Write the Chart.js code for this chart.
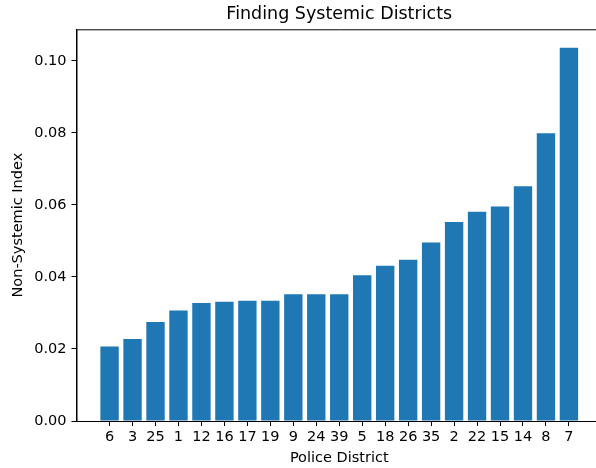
<!DOCTYPE html>
<html>
<head>
<meta charset="utf-8">
<script src="https://cdn.jsdelivr.net/npm/chart.js@4/dist/chart.umd.min.js"></script>
<style>
  html, body { margin: 0; padding: 0; background: #fff; overflow: hidden; }
  #wrap { width: 612px; height: 468px; }
</style>
</head>
<body>
<div id="wrap"><canvas id="grafico" width="612" height="468"></canvas></div>
<script>
// dados
const distritos = ['6', '3', '25', '1', '12', '16', '17', '19', '9', '24', '39', '5', '18', '26', '35', '2', '22', '15', '14', '8', '7'];
const indice = [0.0207, 0.0228, 0.0275, 0.0307, 0.0328, 0.0331, 0.0334, 0.0334, 0.0352, 0.0352, 0.0352,
                0.0405, 0.0431, 0.0448, 0.0496, 0.0553, 0.0581, 0.0596, 0.0652, 0.0799, 0.1037];
const yTicks = [0, 0.02, 0.04, 0.06, 0.08, 0.10];

const FONTE = "'DejaVu Sans', sans-serif";

// moldura estilo matplotlib (topo, esquerda, base; a direita fica fora da imagem)
const moldura = {
  id: 'moldura',
  afterDraw(chart) {
    const { ctx, chartArea: a } = chart;
    ctx.save();
    ctx.strokeStyle = '#000';
    ctx.lineWidth = 1;
    ctx.beginPath();
    ctx.moveTo(a.right, a.top + 0.5);
    ctx.lineTo(a.left + 0.5, a.top + 0.5);
    ctx.lineTo(a.left + 0.5, a.bottom);
    ctx.stroke();
    ctx.restore();
  }
};

new Chart(document.getElementById('grafico'), {
  type: 'bar',
  data: {
    datasets: [{
      data: indice.map((v, i) => ({ x: i, y: v })),
      backgroundColor: '#1f77b4',
      borderWidth: 0,
      barPercentage: 0.8,
      categoryPercentage: 1,
    }],
  },
  plugins: [moldura],
  options: {
    responsive: false,
    animation: false,
    layout: { padding: { left: 0, right: 10, top: 0, bottom: 0 } },
    plugins: {
      legend: { display: false },
      tooltip: { enabled: false },
      title: {
        display: true,
        fullSize: false,
        text: 'Finding Systemic Districts',
        color: '#000',
        font: { family: FONTE, size: 17.5, weight: 'normal' },
        padding: { top: 4, bottom: 4.3 },
      },
    },
    scales: {
      x: {
        type: 'linear',
        offset: false,
        min: -1.44,
        max: 21.44,
        afterBuildTicks: (s) => { s.ticks = distritos.map((d, i) => ({ value: i })); },
        afterFit: (s) => { s.height = 47; },
        grid: { offset: false, drawOnChartArea: false, tickLength: 5, tickColor: '#000' },
        border: { color: '#000' },
        ticks: {
          color: '#000',
          font: { family: FONTE, size: 14.5 },
          padding: 3,
          maxRotation: 0,
          autoSkip: false,
          callback: (v) => distritos[v] ?? '',
        },
        title: {
          display: true,
          text: 'Police District',
          color: '#000',
          font: { family: FONTE, size: 14.5 },
          padding: { top: 0, bottom: 1.3 },
        },
      },
      y: {
        min: 0,
        max: 0.1088,
        afterBuildTicks: (s) => { s.ticks = yTicks.map(v => ({ value: v })); },
        afterFit: (s) => { s.width = 76.5; },
        grid: { drawOnChartArea: false, tickLength: 5, tickColor: '#000' },
        border: { color: '#000' },
        ticks: {
          color: '#000',
          font: { family: FONTE, size: 14.5 },
          padding: 5,
          callback: (v) => v.toFixed(2),
        },
        title: {
          display: true,
          text: 'Non-Systemic Index',
          color: '#000',
          font: { family: FONTE, size: 14.5 },
          padding: { top: 10, bottom: 0 },
        },
      },
    },
  },
});
</script>
</body>
</html>
